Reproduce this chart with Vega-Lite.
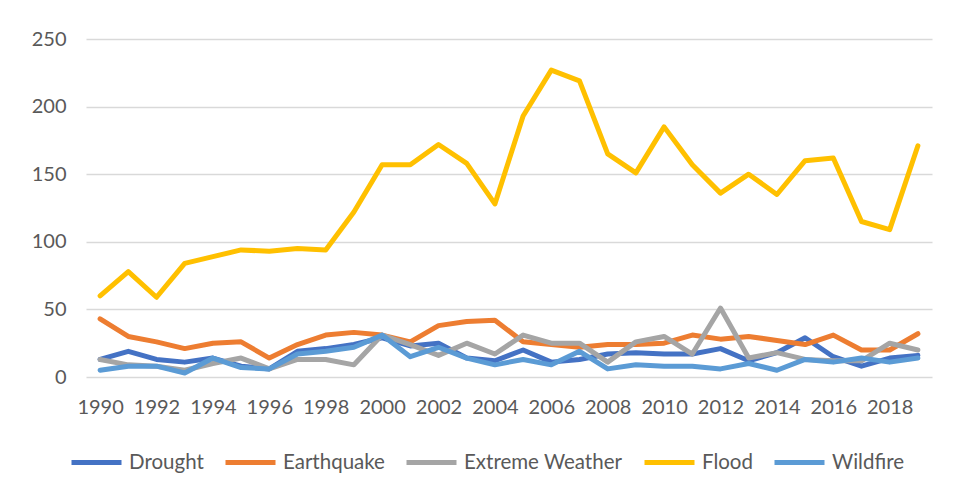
{
  "$schema": "https://vega.github.io/schema/vega-lite/v6.json",
  "width": 846,
  "height": 338,
  "autosize": {"type": "none"},
  "padding": {"left": 86, "top": 39, "right": 26, "bottom": 119},
  "background": "white",
  "config": {
    "view": {"stroke": null},
    "font": "Lato",
    "axis": {
      "labelFont": "Lato",
      "labelFontSize": 20,
      "labelColor": "#595959",
      "domain": false,
      "ticks": false,
      "title": null
    }
  },
  "data": {
    "values": [
      {"year": 1990, "Drought": 13, "Earthquake": 43, "Extreme Weather": 13, "Flood": 60, "Wildfire": 5},
      {"year": 1991, "Drought": 19, "Earthquake": 30, "Extreme Weather": 9, "Flood": 78, "Wildfire": 8},
      {"year": 1992, "Drought": 13, "Earthquake": 26, "Extreme Weather": 8, "Flood": 59, "Wildfire": 8},
      {"year": 1993, "Drought": 11, "Earthquake": 21, "Extreme Weather": 5, "Flood": 84, "Wildfire": 3},
      {"year": 1994, "Drought": 14, "Earthquake": 25, "Extreme Weather": 10, "Flood": 89, "Wildfire": 14},
      {"year": 1995, "Drought": 8, "Earthquake": 26, "Extreme Weather": 14, "Flood": 94, "Wildfire": 7},
      {"year": 1996, "Drought": 6, "Earthquake": 14, "Extreme Weather": 6, "Flood": 93, "Wildfire": 6},
      {"year": 1997, "Drought": 19, "Earthquake": 24, "Extreme Weather": 13, "Flood": 95, "Wildfire": 17},
      {"year": 1998, "Drought": 21, "Earthquake": 31, "Extreme Weather": 13, "Flood": 94, "Wildfire": 19},
      {"year": 1999, "Drought": 24, "Earthquake": 33, "Extreme Weather": 9, "Flood": 122, "Wildfire": 22},
      {"year": 2000, "Drought": 29, "Earthquake": 31, "Extreme Weather": 31, "Flood": 157, "Wildfire": 31},
      {"year": 2001, "Drought": 23, "Earthquake": 26, "Extreme Weather": 24, "Flood": 157, "Wildfire": 15},
      {"year": 2002, "Drought": 25, "Earthquake": 38, "Extreme Weather": 16, "Flood": 172, "Wildfire": 22},
      {"year": 2003, "Drought": 14, "Earthquake": 41, "Extreme Weather": 25, "Flood": 158, "Wildfire": 14},
      {"year": 2004, "Drought": 12, "Earthquake": 42, "Extreme Weather": 17, "Flood": 128, "Wildfire": 9},
      {"year": 2005, "Drought": 20, "Earthquake": 26, "Extreme Weather": 31, "Flood": 193, "Wildfire": 13},
      {"year": 2006, "Drought": 11, "Earthquake": 24, "Extreme Weather": 25, "Flood": 227, "Wildfire": 9},
      {"year": 2007, "Drought": 13, "Earthquake": 22, "Extreme Weather": 25, "Flood": 219, "Wildfire": 19},
      {"year": 2008, "Drought": 17, "Earthquake": 24, "Extreme Weather": 11, "Flood": 165, "Wildfire": 6},
      {"year": 2009, "Drought": 18, "Earthquake": 24, "Extreme Weather": 26, "Flood": 151, "Wildfire": 9},
      {"year": 2010, "Drought": 17, "Earthquake": 25, "Extreme Weather": 30, "Flood": 185, "Wildfire": 8},
      {"year": 2011, "Drought": 17, "Earthquake": 31, "Extreme Weather": 17, "Flood": 157, "Wildfire": 8},
      {"year": 2012, "Drought": 21, "Earthquake": 28, "Extreme Weather": 51, "Flood": 136, "Wildfire": 6},
      {"year": 2013, "Drought": 12, "Earthquake": 30, "Extreme Weather": 14, "Flood": 150, "Wildfire": 10},
      {"year": 2014, "Drought": 18, "Earthquake": 27, "Extreme Weather": 18, "Flood": 135, "Wildfire": 5},
      {"year": 2015, "Drought": 29, "Earthquake": 24, "Extreme Weather": 13, "Flood": 160, "Wildfire": 13},
      {"year": 2016, "Drought": 15, "Earthquake": 31, "Extreme Weather": 12, "Flood": 162, "Wildfire": 11},
      {"year": 2017, "Drought": 8, "Earthquake": 20, "Extreme Weather": 12, "Flood": 115, "Wildfire": 14},
      {"year": 2018, "Drought": 14, "Earthquake": 20, "Extreme Weather": 25, "Flood": 109, "Wildfire": 11},
      {"year": 2019, "Drought": 16, "Earthquake": 32, "Extreme Weather": 20, "Flood": 171, "Wildfire": 14}
    ]
  },
  "transform": [
    {"fold": ["Drought", "Earthquake", "Extreme Weather", "Flood", "Wildfire"], "as": ["type", "count"]}
  ],
  "mark": {"type": "line", "strokeWidth": 5, "strokeJoin": "round", "strokeCap": "round"},
  "encoding": {
    "x": {
      "field": "year",
      "type": "ordinal",
      "scale": {"type": "point", "padding": 0.5},
      "axis": {
        "values": [1990, 1992, 1994, 1996, 1998, 2000, 2002, 2004, 2006, 2008, 2010, 2012, 2014, 2016, 2018],
        "labelAngle": 0,
        "labelPadding": 20,
        "grid": false
      }
    },
    "y": {
      "field": "count",
      "type": "quantitative",
      "scale": {"domain": [0, 250], "nice": false},
      "axis": {
        "values": [0, 50, 100, 150, 200, 250],
        "grid": true,
        "gridColor": "#D9D9D9",
        "gridWidth": 1.3,
        "labelPadding": 20
      }
    },
    "color": {
      "field": "type",
      "type": "nominal",
      "scale": {
        "domain": ["Drought", "Earthquake", "Extreme Weather", "Flood", "Wildfire"],
        "range": ["#4472C4", "#ED7D31", "#A5A5A5", "#FFC000", "#5B9BD5"]
      },
      "legend": {
        "title": null,
        "orient": "none",
        "direction": "horizontal",
        "legendX": -17,
        "legendY": 396,
        "symbolType": "stroke",
        "symbolSize": 2500,
        "symbolStrokeWidth": 5,
        "labelFont": "Lato",
        "labelFontSize": 20.5,
        "labelColor": "#595959",
        "labelOffset": 5,
        "columnPadding": 11
      }
    }
  }
}
